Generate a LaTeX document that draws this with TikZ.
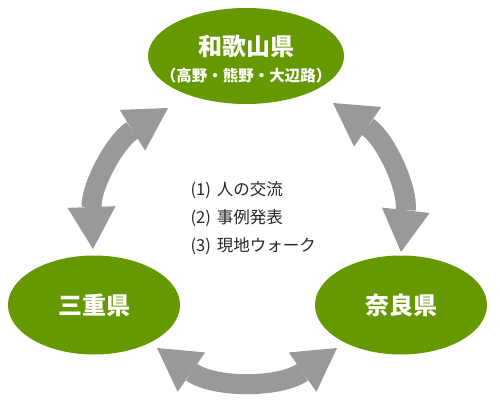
\documentclass[tikz,border=0pt]{standalone}
\usepackage{fontspec}
\usetikzlibrary{arrows.meta,shapes.geometric}
\newfontfamily\jpfont{Noto Sans CJK JP}
\definecolor{prefgreen}{HTML}{669900}
\definecolor{arrowgray}{HTML}{999999}
\tikzset{
  pref/.style={ellipse,fill=prefgreen,inner sep=0pt,minimum width=172pt,minimum height=99pt,
    text=white,font=\jpfont\bfseries\fontsize{24}{28}\selectfont},
  prefnote/.style={text=white,font=\jpfont\bfseries\fontsize{15.5}{18}\selectfont},
  exchange/.style={arrowgray,line width=20pt,
    {Triangle[width=48pt,length=42pt,line width=0pt]}-{Triangle[width=48pt,length=42pt,line width=0pt]}}
}

\begin{document}
\begin{tikzpicture}[x=1pt,y=1pt]
        \useasboundingbox (0,0) rectangle (500,400);
        \node[pref,minimum width=196pt,minimum height=96pt] (wakayama) at (246,344) {};
        \node[pref,fill=none] (wakayamaname) at (246,354) {和歌山県};
        \node[prefnote] (wakayamaroute) at (246,324) {（高野・熊野・大辺路）};
        \node[pref] (mie) at (94,95) {三重県};
        \node[pref] (nara) at (401,95) {奈良県};
        \node[anchor=west,align=left,text=black!85,font=\jpfont\fontsize{16.5}{28}\selectfont] (topics) at (187,182)
            {(1)\hspace{6pt}人の交流\\(2)\hspace{6pt}事例発表\\(3)\hspace{6pt}現地ウォーク};
        \coordinate (mietip) at (93,151);
        \coordinate (wakayamalefttip) at (168,292);
        \coordinate (wakayamarighttip) at (333,297);
        \coordinate (naratip) at (401,148);
        \coordinate (mierighttip) at (157,52);
        \coordinate (naralefttip) at (337,52);
        \draw[exchange] (mietip) to[bend left=30] (wakayamalefttip);
        \draw[exchange] (wakayamarighttip) to[bend left=31] (naratip);
        \draw[exchange] (mierighttip) to[bend right=35] (naralefttip);
    \end{tikzpicture}
\end{document}
